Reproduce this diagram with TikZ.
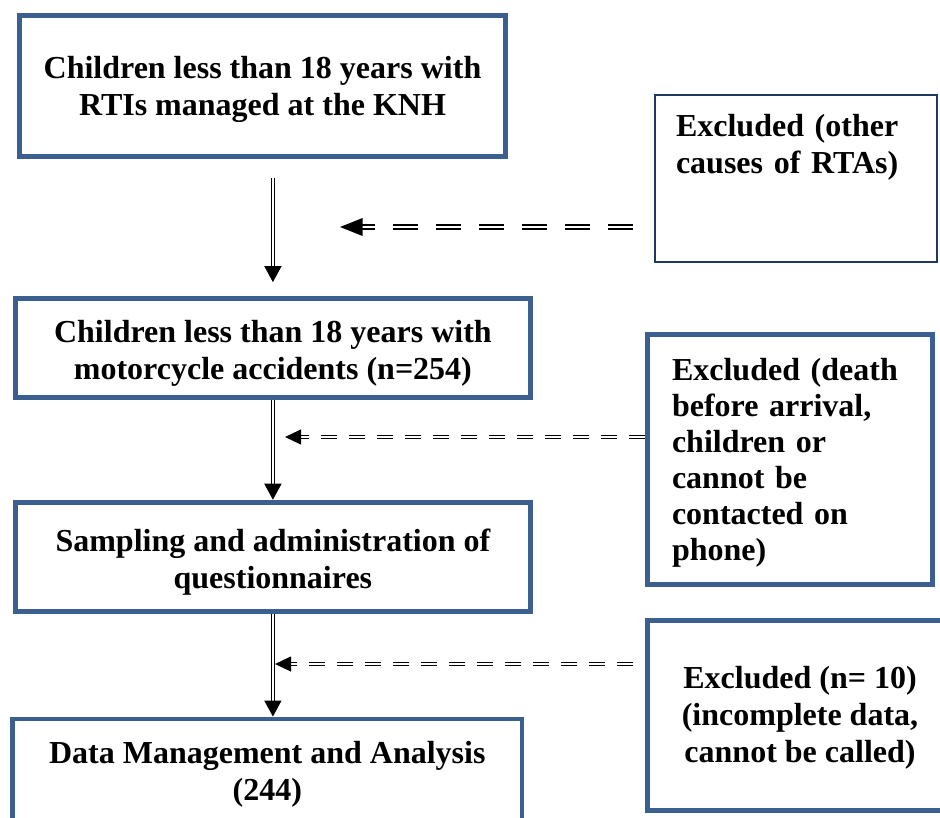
\documentclass[tikz,border=0pt]{standalone}
\usepackage{fontspec}
\setmainfont{Liberation Serif}
\usepackage{xcolor}
\usepackage{tikz}
\usetikzlibrary{arrows.meta, positioning}
\definecolor{boxblue}{HTML}{3B5F8E}
\definecolor{navyline}{HTML}{203864}
\newcommand{\topgap}[1]{\rule{0pt}{#1}}
\tikzset{
    boxtext/.style={font=\bfseries\fontsize{12}{13.9}\selectfont},
    mainbox/.style={rectangle, minimum width=193pt, inner sep=0pt, align=center, draw=boxblue, line width=1.8pt, boxtext},
    exbox/.style={rectangle, inner xsep=8pt, inner ysep=0pt, align=left, draw=boxblue, line width=1.8pt, boxtext},
    flowarrow/.style={double, double distance=0.6pt, line width=0.45pt, -{Triangle[length=6pt, width=6.4pt]}},
    dasharrow/.style={double, double distance=0.6pt, line width=0.45pt, dash pattern=on 6pt off 4.5pt, -{Triangle[length=6pt, width=5.6pt]}}
}
\begin{document}
\begin{tikzpicture}[x=0.375pt, y=-0.375pt]
    \useasboundingbox (0,0) rectangle (940,817);
    % main column
    \node (rti) [mainbox, minimum width=182pt, minimum height=52.9pt] at (262.5,86) {\topgap{11pt}Children less than 18 years with\\RTIs managed at the KNH};
    \node (moto) [mainbox, minimum height=37.1pt, below=51.4pt of rti, xshift=3.9pt] {\topgap{12.5pt}Children less than 18 years with\\motorcycle accidents (n=254)};
    \node (samp) [mainbox, minimum height=40.9pt, below=37.5pt of moto] {\topgap{12.5pt}Sampling and administration of\\questionnaires};
    \node (data) [mainbox, minimum width=191pt, minimum height=38.6pt, below=38.6pt of samp, xshift=-2.1pt] {\topgap{11.5pt}Data Management and Analysis\\(244)};
    % excluded boxes
    \node (exrta) [exbox, draw=navyline, line width=0.75pt, text width=90pt, minimum height=62.6pt, inner xsep=7.9pt] at (796,178.5) {\topgap{10pt}Excluded (other\\causes of RTAs)\\\mbox{}\\\mbox{}};
    \node (exdeath) [exbox, text width=88.5pt, minimum height=93.75pt, inner xsep=9.2pt, below=25.9pt of exrta, xshift=-2.25pt, font=\bfseries\fontsize{12}{13.5}\selectfont] {\topgap{11pt}Excluded (death\\before arrival,\\children or\\cannot be\\contacted on\\phone)};
    \node (exdata) [exbox, align=center, minimum width=114.4pt, minimum height=71.25pt, below=11.6pt of exdeath, xshift=3.75pt] {\topgap{10pt}Excluded (n= 10)\\(incomplete data,\\cannot be called)};
    % arrow tips of the dashed lines
    \coordinate (tiprta) at (340,227);
    \coordinate (tipdeath) at (285,437);
    \coordinate (tipdata) at (275,664);

    \draw [flowarrow, shorten <=7pt, shorten >=5.2pt] (rti.south -| moto.north) -- (moto.north);
    \draw [flowarrow] (moto.south) -- (samp.north);
    \draw [flowarrow] (samp.south) -- (samp.south |- data.north);
    \draw [dasharrow, line width=0.65pt, double distance=0.75pt, dash pattern=on 9.4pt off 6.7pt, shorten <=7.9pt, -{Triangle[length=8.5pt, width=6.6pt]}] (exrta.west |- tiprta) -- (tiprta);
    \draw [dasharrow] (exdeath.west |- tipdeath) -- (tipdeath);
    \draw [dasharrow, shorten <=4.5pt] (exdata.west |- tipdata) -- (tipdata);
\end{tikzpicture}
\end{document}
